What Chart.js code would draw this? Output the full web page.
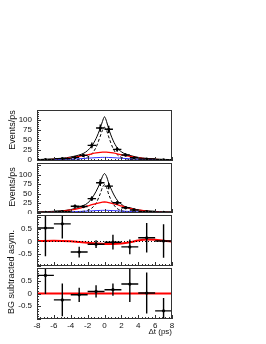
<!DOCTYPE html>
<html><head><meta charset="utf-8">
<script src="https://cdn.jsdelivr.net/npm/chart.js@4.4.0/dist/chart.umd.min.js"></script>
<style>
body{margin:0;background:#fff;width:266px;height:344px;overflow:hidden;position:relative;font-family:"Liberation Sans",Arial,sans-serif;}
canvas{position:absolute;left:0;}
.yt{position:absolute;font-size:9px;color:#111;transform:translate(-50%,-50%) rotate(-90deg);white-space:nowrap;}
</style></head><body>
<canvas id="c1" width="266" height="53" style="top:109px"></canvas>
<canvas id="c2" width="266" height="52" style="top:162px"></canvas>
<canvas id="c3" width="266" height="53" style="top:214px"></canvas>
<canvas id="c4" width="266" height="77" style="top:267px"></canvas>
<div class="yt" style="left:12px;top:130px">Events/ps</div>
<div class="yt" style="left:12px;top:187px">Events/ps</div>
<div class="yt" style="left:11px;top:272px">BG subtracted asym.</div>
<script>
// ---- data ----
const curveX = [-8,-7,-6,-5,-4,-3,-2.5,-2,-1.5,-1,-0.5,-0.25,0,0.25,0.5,1,1.5,2,2.5,3,4,5,6,7,8];
const total1 = [1.5,2.5,3.5,5,8,13,17,24,36,54,80,96,108,96,78,50,31,21,15,12,7,4.5,3,2,1.5];
const sig1   = [0,0,0.1,0.3,0.8,2.5,4.5,8,16,32,60,74,82,74,58,30,14,7,4,2,0.8,0.3,0.1,0,0];
const red1   = [0.5,1,2,3.5,6,9.5,11.5,13.5,16,18,19.5,20,20,20,19.5,18,16,13.5,11.5,9.5,6,3.5,2,1,0.5];
const blue1  = [0.5,0.8,1.2,1.8,2.5,3.5,4.2,5,5.7,6.3,6.8,7,7,7,6.8,6.3,5.7,5,4.2,3.5,2.5,1.8,1.2,0.8,0.5];
const total2 = [1.5,2.5,3.5,5,8,14.5,19,25,38,56,80,95,103,95,78,52,33,22,15,13,7,4.5,3,2,1.5];
const sig2   = [0,0,0.1,0.3,0.7,2,3.5,6,12,25,50,66,74,66,48,24,11,5,2.5,1.2,0.5,0.2,0.1,0,0];
const red2   = [0.5,1,2,4,7,11.5,14.5,17.5,21,24,26.5,27.5,28,27.5,26.5,24,21,17.5,14.5,11.5,7,4,2,1,0.5];
const blue2  = [0.3,0.5,0.8,1.2,2,3,3.5,4,4.7,5.3,5.8,6,6,6,5.8,5.3,4.7,4,3.5,3,2,1.2,0.8,0.5,0.3];

const binX    = [-7,-5,-3.5,-2.5,-1.5,-0.5,0.5,1.5,2.5,3.5,5,7];
const binHalf = [1,1,0.5,0.5,0.5,0.5,0.5,0.5,0.5,0.5,1,1];
const evt1    = [1.5,4,7,12,37,80,77,27,13,6,3,1];
const evt1Err = [1,1.5,3,4,7,9,9,6,4,3,1.5,1];
const evt2    = [1,3,17,16,37,79,70,26,13,7,3,1];
const evt2Err = [1,1.5,4,4,6,9,8,5,4,3,1.5,1];

const asymX    = [-7,-5,-3,-1,1,3,5,7];
const asymHalf = [1,1,1,1,1,1,1,1];
const asym3    = [0.55,0.72,-0.43,-0.11,-0.03,-0.22,0.15,0.02];
const asym3Err = [1.15,0.6,0.22,0.16,0.3,0.3,0.6,0.68];
const asym4    = [0.71,-0.25,-0.05,0.08,0.15,0.37,0.02,-0.68];
const asym4Err = [0.73,0.64,0.28,0.24,0.24,0.7,0.8,0.5];

const fitX3 = [-8,-6,-4,-3,-2,-1,0,1,2,3,4,5,6,7,8];
const fit3  = [0.02,0.03,0.01,-0.02,-0.05,-0.08,-0.1,-0.1,-0.08,-0.03,0.04,0.08,0.07,0.03,0];
const fitX4 = [-8,8];
const fit4  = [0,0];

const xTicks = [-8,-6,-4,-2,0,2,4,6,8];
const yTicksEv = [0,25,50,75,100];
const yTicksAsym = [-0.5,0,0.5];
const xTitle = "\u0394t (ps)";

// ---- helpers ----
const pts = (xs, ys) => xs.map((x,i)=>({x, y: ys[i]}));
const FONT = {family:'"Liberation Sans", Arial, sans-serif', size:8};

function line(xs, ys, color, width, dash){
  return {type:'line', data: pts(xs,ys), borderColor: color, borderWidth: width, borderDash: dash||[],
    pointRadius:0, fill:false, cubicInterpolationMode:'monotone', order:2};
}
function marks(xs, ys){
  return {type:'scatter', data: pts(xs,ys), backgroundColor:'#000', borderColor:'#000', pointRadius:1.6, borderWidth:0, order:1};
}

function framePlugin(cfg){
  return {id:'frame'+cfg.id, afterDatasetsDraw(chart){
    const {ctx, chartArea:a, scales:{x,y}} = chart;
    ctx.save();
    ctx.beginPath(); ctx.rect(a.left,a.top,a.right-a.left,a.bottom-a.top); ctx.clip();
    ctx.strokeStyle='#000'; ctx.lineWidth=1.4;
    cfg.px.forEach((xv,i)=>{
      const yv = cfg.py[i], e = cfg.pe[i], h = cfg.ph[i];
      const px = x.getPixelForValue(xv), py = y.getPixelForValue(yv);
      ctx.beginPath();
      ctx.moveTo(x.getPixelForValue(xv-h), py); ctx.lineTo(x.getPixelForValue(xv+h), py);
      ctx.moveTo(px, y.getPixelForValue(yv-e)); ctx.lineTo(px, y.getPixelForValue(yv+e));
      ctx.stroke();
    });
    ctx.restore();
    ctx.save();
    ctx.strokeStyle='#333'; ctx.lineWidth=1;
    ctx.beginPath();
    for(let v=-8; v<=8.001; v+=0.4){
      const major = Math.abs(v/2 - Math.round(v/2)) < 1e-6;
      const p = Math.round(x.getPixelForValue(v))+0.5;
      ctx.moveTo(p, a.bottom); ctx.lineTo(p, a.bottom-(major?4:2));
    }
    const ymin = y.min, ymax = y.max;
    for(let v=Math.ceil(ymin/cfg.yMinor)*cfg.yMinor; v<=ymax+1e-9; v+=cfg.yMinor){
      const major = Math.abs(v/cfg.yMajor - Math.round(v/cfg.yMajor)) < 1e-6;
      const p = Math.round(y.getPixelForValue(v))+0.5;
      ctx.moveTo(a.left, p); ctx.lineTo(a.left+(major?4:2), p);
    }
    ctx.stroke();
    ctx.strokeRect(a.left+0.5, a.top+0.5, a.right-a.left-1, a.bottom-a.top-1);
    ctx.restore();
  }};
}

function makeChart(id, datasets, ymin, ymax, yTicks, cfg, showX){
  const fmt = v => (Math.abs(v) < 1e-9 ? '0' : String(v));
  new Chart(document.getElementById(id), {
    data: {datasets},
    options: {
      responsive:false, maintainAspectRatio:false, animation:false, devicePixelRatio:1,
      layout:{autoPadding:false, padding:{left:0, right:94, top:1, bottom: showX?0:1}},
      plugins:{legend:{display:false}, tooltip:{enabled:false}, title:{display:false}},
      scales:{
        x:{type:'linear', min:-8, max:8, display: showX,
           grid:{display:false, drawTicks:false}, border:{display:false},
           afterBuildTicks: s => { s.ticks = xTicks.map(v=>({value:v})); },
           afterFit: s => { if(showX) s.height = 25; s.paddingLeft = 0; s.paddingRight = 0; },
           ticks:{font:FONT, color:'#111', padding:2, autoSkip:false, maxRotation:0, callback: fmt},
           title:{display: showX, text: xTitle, align:'end', font:FONT, color:'#111', padding:{top:0,bottom:7}}},
        y:{type:'linear', min:ymin, max:ymax,
           grid:{display:false, drawTicks:false}, border:{display:false},
           afterBuildTicks: s => { s.ticks = yTicks.map(v=>({value:v})); },
           afterFit: s => { s.width = 37; s.paddingTop = 0; s.paddingBottom = 0; },
           ticks:{font:FONT, color:'#111', padding:5, autoSkip:false, callback: fmt}}
      }
    },
    plugins:[framePlugin(Object.assign({id}, cfg))]
  });
}

makeChart('c1', [
  line(curveX, blue1, '#3030ff', 1),
  line(curveX, red1, '#ff0000', 1.3),
  line(curveX, sig1, '#000', 1, [3,2]),
  line(curveX, total1, '#000', 1),
  marks(binX, evt1)
], -2, 125, yTicksEv, {px:binX, py:evt1, pe:evt1Err, ph:binHalf, yMajor:25, yMinor:5}, false);

makeChart('c2', [
  line(curveX, blue2, '#3030ff', 1),
  line(curveX, red2, '#ff0000', 1.3),
  line(curveX, sig2, '#000', 1, [3,2]),
  line(curveX, total2, '#000', 1),
  marks(binX, evt2)
], -1, 131, yTicksEv, {px:binX, py:evt2, pe:evt2Err, ph:binHalf, yMajor:25, yMinor:5}, false);

makeChart('c3', [
  line(fitX4, fit4, '#000', 1, [1,2]),
  line(fitX3, fit3, '#ff0000', 2),
  marks(asymX, asym3)
], -1, 1.08, yTicksAsym, {px:asymX, py:asym3, pe:asym3Err, ph:asymHalf, yMajor:0.5, yMinor:0.1}, false);

makeChart('c4', [
  line(fitX4, fit4, '#ff0000', 2),
  marks(asymX, asym4)
], -1, 1, yTicksAsym, {px:asymX, py:asym4, pe:asym4Err, ph:asymHalf, yMajor:0.5, yMinor:0.1}, true);
</script>
</body></html>
